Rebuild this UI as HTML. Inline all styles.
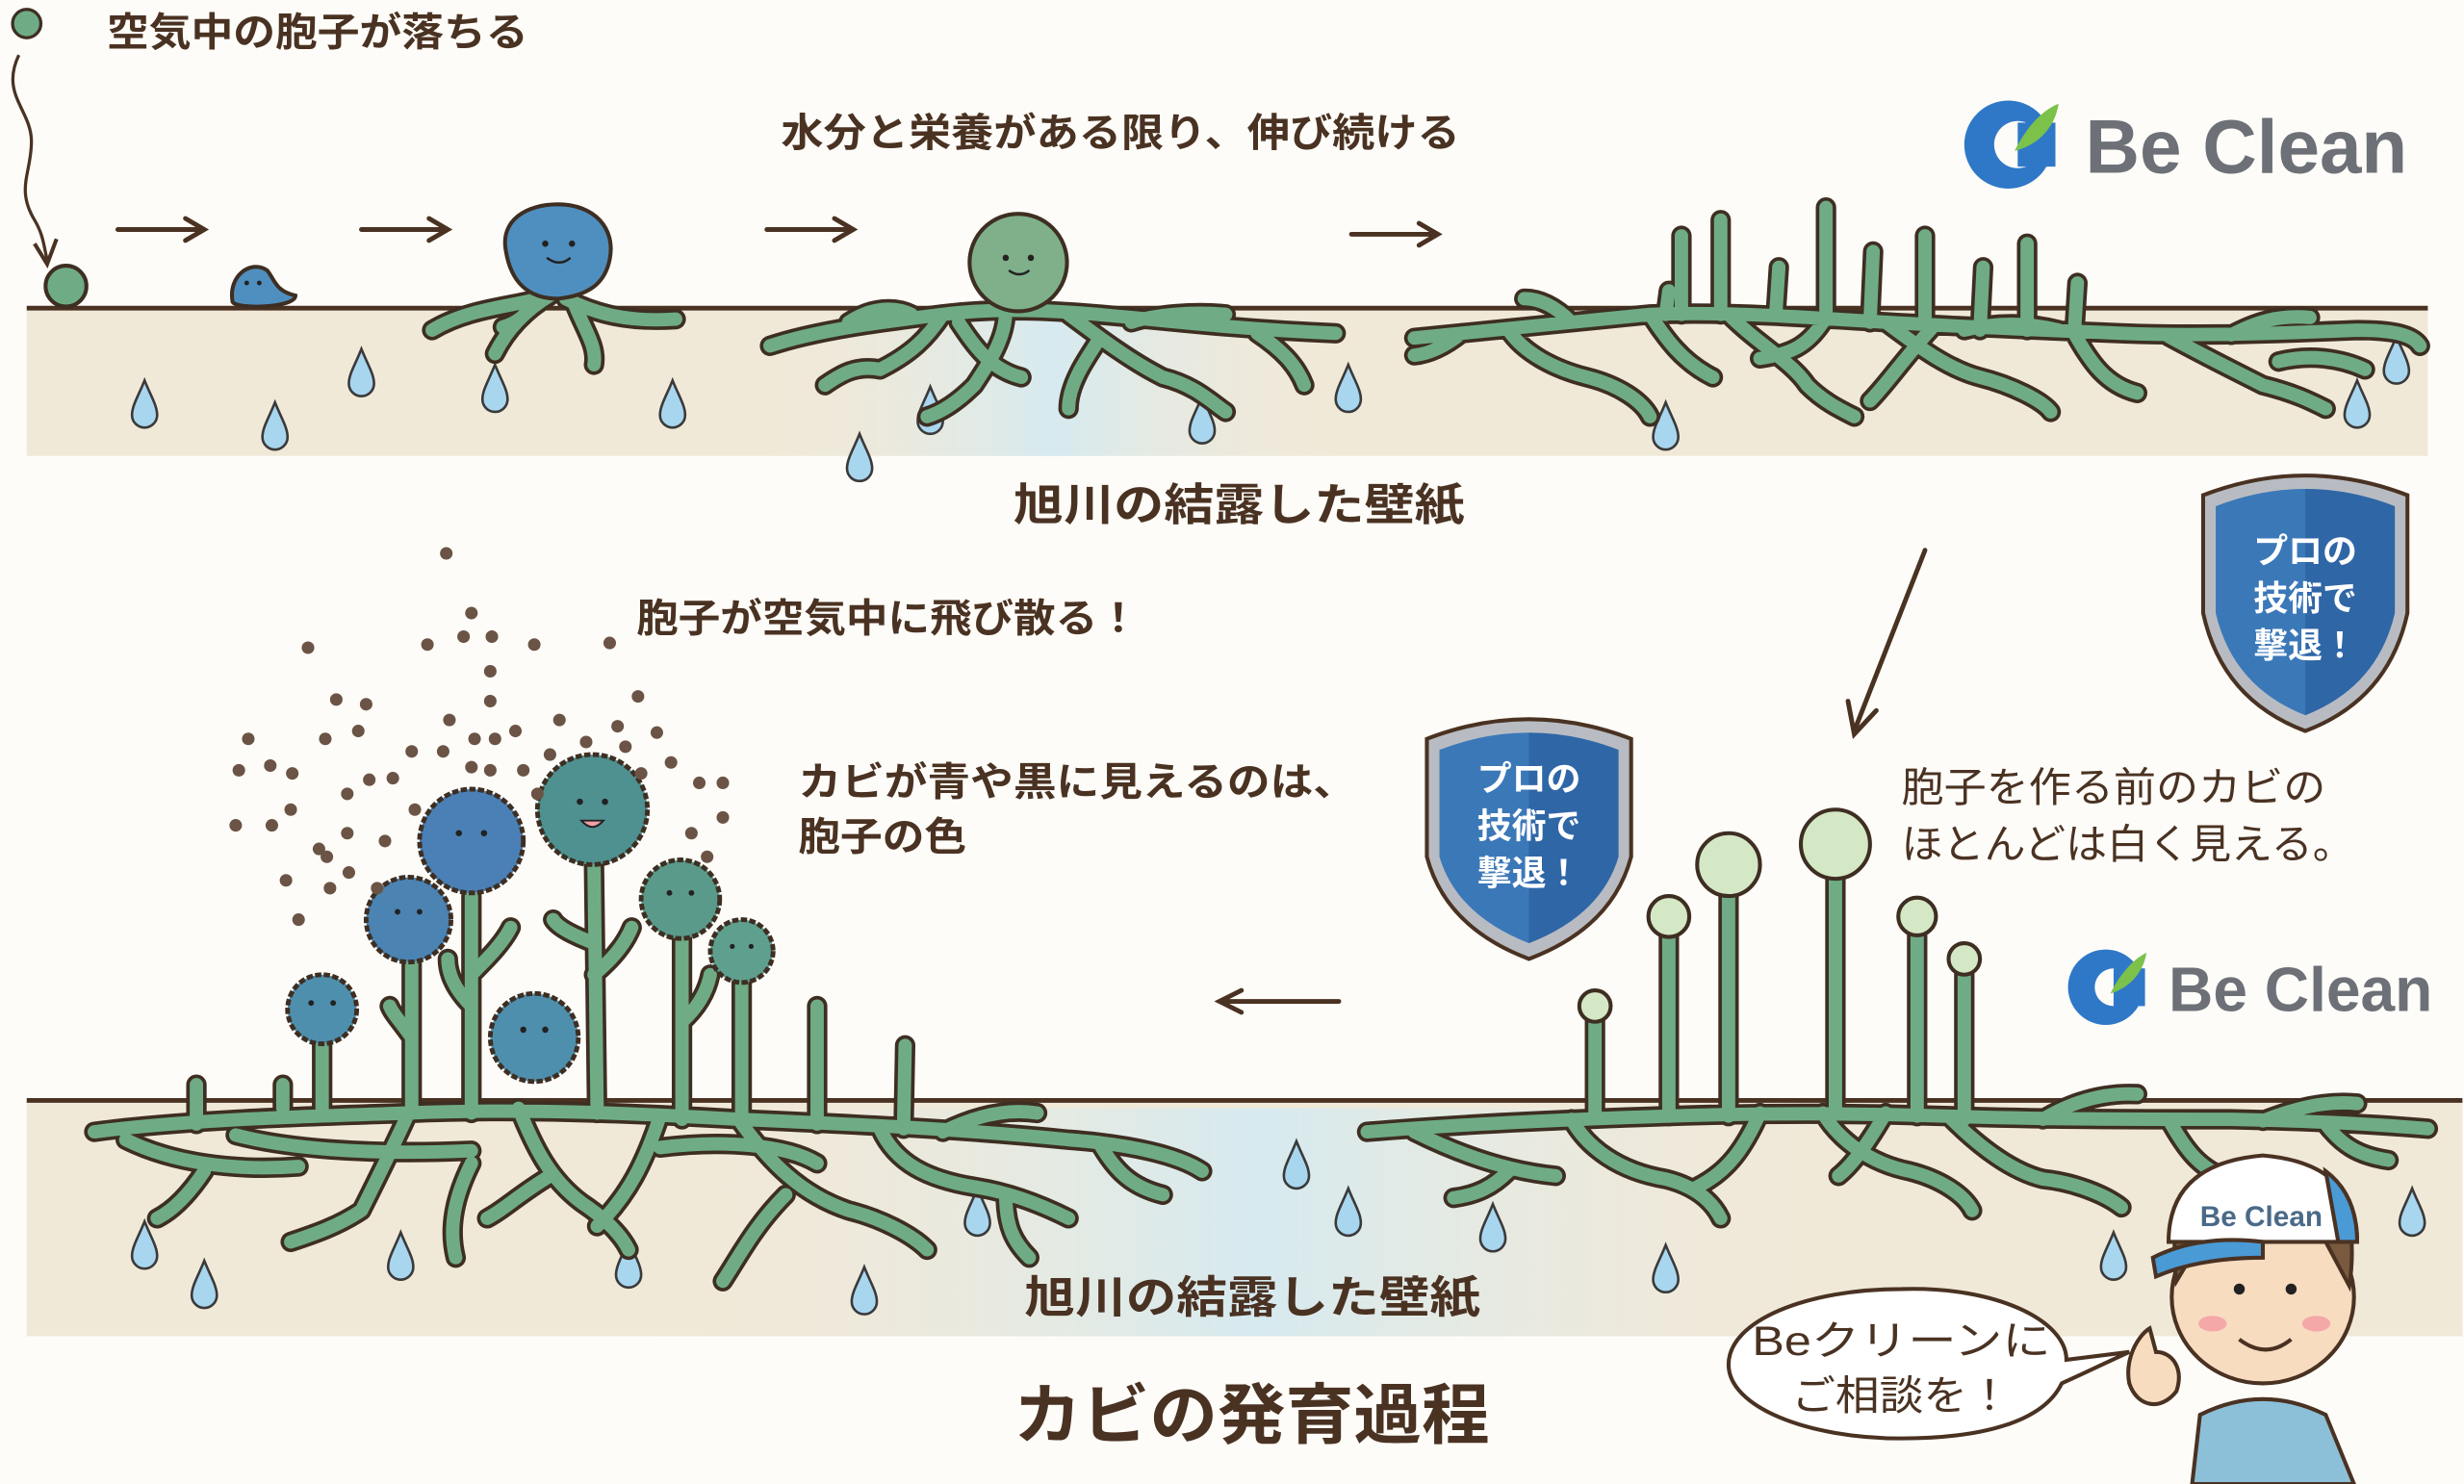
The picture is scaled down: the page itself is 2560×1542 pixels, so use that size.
<!DOCTYPE html>
<html><head><meta charset="utf-8"><style>
html,body{margin:0;padding:0;background:#fdfcf8;}
svg{display:block;}
text{font-family:"Liberation Sans","Noto Sans CJK JP",sans-serif;fill:#4a3222;}
</style></head><body>
<svg width="2560" height="1542" viewBox="0 0 1568 944" preserveAspectRatio="none" xmlns="http://www.w3.org/2000/svg">
<defs>
<path id="drop" d="M0,-16 C4,-6 8,0 8,6 A8,8 0 0 1 -8,6 C-8,0 -4,-6 0,-16Z" fill="#a9d6ef" stroke="#3a3a3a" stroke-width="1.6"/>
<linearGradient id="wet" x1="0" x2="1"><stop offset="0" stop-color="#f1e9d8" stop-opacity="0"/><stop offset="0.5" stop-color="#d6eaf0"/><stop offset="1" stop-color="#f1e9d8" stop-opacity="0"/></linearGradient>
<linearGradient id="sh" x1="0" x2="1"><stop offset="0.5" stop-color="#3b78b8"/><stop offset="0.5" stop-color="#2f66a6"/></linearGradient>
<g id="m1" fill="none">
<path d="M275,210 C300,195 330,195 350,188 M350,188 C330,200 320,215 315,225 M360,190 C380,200 400,205 430,203 M365,192 C372,210 380,220 378,232 M340,192 C335,200 330,205 320,208"/>
<path d="M490,220 C520,210 560,205 600,200 C640,195 680,198 720,202 C760,206 800,210 850,212 M540,205 C555,195 570,195 580,200 M600,200 C590,215 580,225 560,235 M560,235 C545,232 535,238 525,245 M640,198 C640,215 630,230 620,245 M620,245 C610,255 600,262 590,265 M680,200 C700,215 720,230 740,240 M740,240 C760,245 770,255 780,262 M720,205 C735,200 760,198 780,200 M700,215 C690,230 680,245 680,260 M800,212 C815,222 825,232 830,245 M610,205 C620,220 630,235 650,240"/>
<path d="M900,215 C950,210 1000,205 1050,200 C1100,198 1150,202 1200,205 C1250,208 1300,210 1350,212 C1400,214 1450,212 1500,210 C1520,210 1535,212 1540,220 M960,210 C970,225 990,235 1010,240 M1010,240 C1030,245 1045,255 1050,265 M1050,200 C1060,215 1070,230 1090,240 M1100,200 C1120,220 1140,230 1150,245 M1150,245 C1160,255 1170,260 1180,265 M1160,205 C1150,220 1140,225 1120,228 M1200,205 C1220,220 1240,235 1260,240 M1260,240 C1280,245 1300,255 1305,262 M1250,210 C1270,205 1290,205 1310,210 M1320,212 C1330,230 1340,245 1360,250 M1380,214 C1400,225 1420,235 1440,245 M1440,245 C1460,250 1470,255 1480,260 M1420,213 C1435,205 1450,200 1470,202 M1000,205 C990,195 980,190 970,190 M1230,208 C1210,230 1200,245 1190,255 M1450,230 C1470,225 1490,228 1505,235 M930,212 C920,220 910,225 900,226"/>
<path d="M1070,200 L1070,150 M1095,200 L1095,140 M1130,200 L1132,170 M1162,200 L1162,132 M1190,205 L1192,160 M1225,207 L1225,150 M1260,210 L1262,170 M1290,210 L1290,155 M1320,212 L1322,180 M1060,200 L1062,185"/>
<path d="M60,720 C120,712 200,710 260,708 C330,705 400,708 470,712 C540,715 610,718 680,725 C720,728 750,735 765,745 M80,725 C110,740 150,745 190,742 M150,722 C180,730 230,735 300,732 M260,708 C250,730 240,750 230,770 M230,770 C215,780 200,785 185,790 M330,705 C340,730 350,750 370,765 M370,765 C385,775 395,785 400,795 M420,710 C410,740 400,760 380,780 M470,712 C490,740 510,760 540,770 M540,770 C560,775 580,785 590,795 M560,718 C570,740 590,750 620,755 M620,755 C640,758 660,765 680,775 M600,720 C620,710 640,705 660,708 M420,730 C460,725 500,728 520,740 M700,728 C710,745 720,755 740,760 M130,745 C120,760 110,770 100,775 M300,740 C290,760 285,780 290,800 M500,760 C480,780 470,800 460,815 M640,760 C640,780 645,790 655,800 M350,748 C330,760 320,770 310,775"/>
<path d="M180,705 L180,690 M205,705 L205,665 M262,708 L262,610 M300,708 L300,570 M380,708 L378,550 M434,712 L434,595 M472,712 L472,625 M520,715 L520,640 M575,718 L576,665 M125,715 L125,690 M300,640 C290,630 285,620 285,610 M300,620 C310,610 320,600 325,590 M378,600 C365,595 355,590 352,585 M378,620 C390,610 398,600 402,590 M434,650 C445,640 450,630 452,620 M262,660 C255,650 250,645 248,640"/>
<path d="M870,720 C930,715 1000,712 1060,710 C1120,708 1180,708 1240,710 C1300,712 1360,712 1420,712 C1470,713 1510,715 1545,718 M900,720 C930,735 960,745 990,748 M1000,712 C1010,730 1030,745 1060,750 M1060,750 C1080,755 1090,765 1095,775 M1120,708 C1110,730 1100,745 1080,755 M1160,708 C1170,725 1190,740 1215,745 M1215,745 C1235,750 1250,760 1255,770 M1240,710 C1260,730 1280,745 1300,750 M1300,750 C1320,752 1340,760 1350,768 M1300,712 C1320,700 1340,695 1360,696 M1380,712 C1390,730 1400,745 1420,750 M1420,750 C1440,752 1455,758 1465,765 M1440,713 C1460,705 1480,700 1500,702 M1480,715 C1490,728 1500,735 1520,738 M1200,708 C1190,725 1180,740 1170,748 M960,745 C950,755 940,760 925,762"/>
<path d="M1015,710 L1015,645 M1062,710 L1062,595 M1100,710 L1100,570 M1168,708 L1168,557 M1220,710 L1220,595 M1250,712 L1250,620"/>
</g>
</defs>
<rect width="1568" height="944" fill="#fdfcf8"/>
<rect x="17" y="196" width="1528" height="94" fill="#f1e9d8"/>
<rect x="470" y="200" width="400" height="90" fill="url(#wet)"/>
<line x1="17" y1="196" x2="1545" y2="196" stroke="#4a3222" stroke-width="3"/>
<rect x="17" y="700" width="1550" height="150" fill="#f1e9d8"/>
<rect x="400" y="705" width="800" height="145" fill="url(#wet)"/>
<line x1="17" y1="700" x2="1567" y2="700" stroke="#4a3222" stroke-width="3"/>
<g>
<use href="#drop" x="92" y="258"/><use href="#drop" x="175" y="272"/><use href="#drop" x="230" y="238"/><use href="#drop" x="315" y="248"/><use href="#drop" x="428" y="258"/><use href="#drop" x="547" y="292"/><use href="#drop" x="592" y="262"/><use href="#drop" x="765" y="268"/><use href="#drop" x="858" y="248"/><use href="#drop" x="1060" y="272"/><use href="#drop" x="1500" y="258"/><use href="#drop" x="1525" y="230"/>
<use href="#drop" x="92" y="793"/><use href="#drop" x="130" y="818"/><use href="#drop" x="255" y="800"/><use href="#drop" x="400" y="805"/><use href="#drop" x="550" y="822"/><use href="#drop" x="622" y="772"/><use href="#drop" x="825" y="742"/><use href="#drop" x="858" y="772"/><use href="#drop" x="950" y="782"/><use href="#drop" x="1060" y="808"/><use href="#drop" x="1345" y="800"/><use href="#drop" x="1535" y="772"/>
</g>
<use href="#m1" stroke="#3e2e22" stroke-width="13" stroke-linecap="round"/>
<use href="#m1" stroke="#6fac86" stroke-width="8.5" stroke-linecap="round"/>
<circle cx="17" cy="15" r="9" fill="#6fac86" stroke="#3e2e22" stroke-width="2"/>
<path d="M12,35 C0,60 20,70 20,90 C20,110 10,120 22,140 C28,150 28,158 30,165" fill="none" stroke="#4a3222" stroke-width="2"/>
<path d="M22,155 L30,168 L36,152" fill="none" stroke="#4a3222" stroke-width="2.5"/>
<circle cx="42" cy="182" r="13" fill="#6fac86" stroke="#3e2e22" stroke-width="2.5"/>
<path d="M148,192 C145,175 160,165 170,172 C175,178 175,185 188,188 C188,196 150,197 148,192Z" fill="#4f8fbf" stroke="#3e2e22" stroke-width="2.5"/>
<circle cx="157" cy="180" r="1.5" fill="#222"/><circle cx="165" cy="180" r="1.5" fill="#222"/>
<path d="M322,160 C318,140 335,130 355,130 C378,130 392,145 388,165 C385,180 375,188 355,190 C335,190 325,178 322,160Z" fill="#4f8fbf" stroke="#3e2e22" stroke-width="2.5"/>
<circle cx="347" cy="155" r="2" fill="#222"/><circle cx="364" cy="155" r="2" fill="#222"/><path d="M348,164 Q356,170 363,164" stroke="#222" stroke-width="1.5" fill="none"/>
<circle cx="648" cy="167" r="31" fill="#7fb08a" stroke="#3e2e22" stroke-width="2.5"/>
<circle cx="640" cy="164" r="2" fill="#222"/><circle cx="656" cy="164" r="2" fill="#222"/><path d="M642,172 Q649,177 655,172" stroke="#222" stroke-width="1.5" fill="none"/>
<g fill="#d5e8c6" stroke="#3e2e22" stroke-width="2.5">
<circle cx="1015" cy="640" r="10"/><circle cx="1062" cy="583" r="13"/><circle cx="1100" cy="550" r="20"/><circle cx="1168" cy="537" r="22"/><circle cx="1220" cy="583" r="12"/><circle cx="1250" cy="610" r="10"/>
</g>
<g stroke="#3e2e22" stroke-width="3" stroke-dasharray="4 1.5">
<circle cx="205" cy="642" r="22" fill="#4f8fae"/><circle cx="260" cy="585" r="27" fill="#4b83b3"/><circle cx="300" cy="535" r="33" fill="#4a80b5"/><circle cx="377" cy="515" r="35" fill="#4f9190"/><circle cx="433" cy="572" r="25" fill="#5a9a8a"/><circle cx="472" cy="605" r="20" fill="#5f9f8e"/><circle cx="340" cy="660" r="28" fill="#4f8fae"/>
</g>
<g fill="#222"><circle cx="198" cy="638" r="1.8"/><circle cx="212" cy="638" r="1.8"/><circle cx="253" cy="580" r="1.8"/><circle cx="267" cy="580" r="1.8"/><circle cx="292" cy="530" r="2"/><circle cx="308" cy="530" r="2"/><circle cx="369" cy="510" r="2"/><circle cx="385" cy="510" r="2"/><circle cx="426" cy="568" r="1.8"/><circle cx="440" cy="568" r="1.8"/><circle cx="466" cy="602" r="1.6"/><circle cx="478" cy="602" r="1.6"/><circle cx="333" cy="655" r="2"/><circle cx="347" cy="655" r="2"/></g>
<path d="M370,522 Q377,530 384,522Z" fill="#f0a0a8" stroke="#222" stroke-width="1.2"/>
<g fill="#6b5445">
<circle cx="284" cy="352" r="4"/><circle cx="300" cy="390" r="4"/><circle cx="295" cy="405" r="4"/><circle cx="313" cy="405" r="4"/><circle cx="272" cy="410" r="4"/><circle cx="340" cy="410" r="4"/><circle cx="388" cy="409" r="4"/><circle cx="196" cy="412" r="4"/><circle cx="312" cy="427" r="4"/><circle cx="312" cy="446" r="4"/><circle cx="214" cy="445" r="4"/><circle cx="233" cy="448" r="4"/><circle cx="286" cy="458" r="4"/><circle cx="356" cy="458" r="4"/><circle cx="406" cy="443" r="4"/><circle cx="393" cy="462" r="4"/><circle cx="158" cy="470" r="4"/><circle cx="207" cy="470" r="4"/><circle cx="228" cy="465" r="4"/><circle cx="282" cy="478" r="4"/><circle cx="302" cy="470" r="4"/><circle cx="315" cy="470" r="4"/><circle cx="328" cy="465" r="4"/><circle cx="350" cy="480" r="4"/><circle cx="373" cy="472" r="4"/><circle cx="398" cy="475" r="4"/><circle cx="418" cy="466" r="4"/><circle cx="152" cy="490" r="4"/><circle cx="186" cy="492" r="4"/><circle cx="250" cy="495" r="4"/><circle cx="262" cy="478" r="4"/><circle cx="300" cy="488" r="4"/><circle cx="312" cy="490" r="4"/><circle cx="333" cy="490" r="4"/><circle cx="342" cy="505" r="4"/><circle cx="408" cy="492" r="4"/><circle cx="427" cy="485" r="4"/><circle cx="445" cy="498" r="4"/><circle cx="460" cy="498" r="4"/><circle cx="172" cy="487" r="4"/><circle cx="185" cy="515" r="4"/><circle cx="221" cy="505" r="4"/><circle cx="235" cy="496" r="4"/><circle cx="264" cy="515" r="4"/><circle cx="150" cy="525" r="4"/><circle cx="173" cy="525" r="4"/><circle cx="221" cy="530" r="4"/><circle cx="208" cy="545" r="4"/><circle cx="245" cy="535" r="4"/><circle cx="182" cy="560" r="4"/><circle cx="210" cy="565" r="4"/><circle cx="222" cy="555" r="4"/><circle cx="240" cy="565" r="4"/><circle cx="190" cy="585" r="4"/><circle cx="203" cy="540" r="4"/><circle cx="440" cy="530" r="4"/><circle cx="460" cy="520" r="4"/><circle cx="450" cy="545" r="4"/></g>
<g stroke="#4a3222" stroke-width="3" fill="none" stroke-linecap="round">
<path d="M75,146 L128,146 M118,139 L130,146 L118,153"/>
<path d="M230,146 L283,146 M273,139 L285,146 L273,153"/>
<path d="M488,146 L541,146 M531,139 L543,146 L531,153"/>
<path d="M860,149 L913,149 M903,142 L915,149 L903,156"/>
<path d="M1225,350 L1180,465 M1176,446 L1180,467 L1194,452"/>
<path d="M852,637 L778,637 M790,630 L776,637 L790,644"/>
</g>
<text x="68" y="29" font-size="25" textLength="268" lengthAdjust="spacingAndGlyphs" font-weight="bold">空気中の胞子が落ちる</text>
<text x="497" y="93" font-size="25" textLength="432" lengthAdjust="spacingAndGlyphs" font-weight="bold">水分と栄養がある限り、伸び続ける</text>
<text x="645" y="331" font-size="28" textLength="287" lengthAdjust="spacingAndGlyphs" font-weight="bold">旭川の結露した壁紙</text>
<text x="405" y="402" font-size="25" textLength="320" lengthAdjust="spacingAndGlyphs" font-weight="bold">胞子が空気中に飛び散る！</text>
<text x="508" y="506" font-size="25" textLength="355" lengthAdjust="spacingAndGlyphs" font-weight="bold">カビが青や黒に見えるのは、</text>
<text x="508" y="541" font-size="25" textLength="107" lengthAdjust="spacingAndGlyphs" font-weight="bold">胞子の色</text>
<text x="1210" y="510" font-size="26" textLength="270" lengthAdjust="spacingAndGlyphs">胞子を作る前のカビの</text>
<text x="1210" y="546" font-size="26" textLength="288" lengthAdjust="spacingAndGlyphs">ほとんどは白く見える。</text>
<text x="652" y="835" font-size="28" textLength="290" lengthAdjust="spacingAndGlyphs" font-weight="bold">旭川の結露した壁紙</text>
<text x="645" y="915" font-size="42" textLength="303" lengthAdjust="spacingAndGlyphs" font-weight="bold">カビの発育過程</text>
<g>
<circle cx="1278" cy="92" r="28" fill="#2f78c8"/><circle cx="1284" cy="92" r="15" fill="#fdfcf8"/><rect x="1284" y="78" width="24" height="28" fill="#2f78c8"/><path d="M1282,96 C1290,80 1300,70 1310,66 C1308,80 1298,92 1282,96Z" fill="#7cc24a"/>
<text x="1327" y="110" font-size="48" font-weight="bold" style="fill:#6d7177" textLength="205" lengthAdjust="spacingAndGlyphs">Be Clean</text>
<circle cx="1340" cy="628" r="24" fill="#2f78c8"/><circle cx="1345" cy="628" r="12" fill="#fdfcf8"/><rect x="1345" y="616" width="20" height="24" fill="#2f78c8"/><path d="M1343,632 C1350,618 1358,610 1366,606 C1364,618 1356,628 1343,632Z" fill="#7cc24a"/>
<text x="1380" y="643" font-size="40" font-weight="bold" style="fill:#6d7177" textLength="168" lengthAdjust="spacingAndGlyphs">Be Clean</text>
</g>
<g>
<path d="M1402,315 Q1467,290 1532,315 L1532,390 Q1520,445 1467,465 Q1414,445 1402,390Z" fill="#b8bcc2" stroke="#4a3222" stroke-width="2.5"/>
<path d="M1410,322 Q1467,300 1524,322 L1524,390 Q1513,437 1467,455 Q1421,437 1410,390Z" fill="url(#sh)"/>
<text x="1467" y="358" font-size="22" text-anchor="middle" style="fill:#fff" font-weight="bold">プロの</text>
<text x="1467" y="388" font-size="22" text-anchor="middle" style="fill:#fff" font-weight="bold">技術で</text>
<text x="1467" y="418" font-size="22" text-anchor="middle" style="fill:#fff" font-weight="bold">撃退！</text>
<path d="M908,470 Q973,445 1038,470 L1038,545 Q1026,590 973,610 Q920,590 908,545Z" fill="#b8bcc2" stroke="#4a3222" stroke-width="2.5"/>
<path d="M916,477 Q973,455 1030,477 L1030,545 Q1019,582 973,600 Q927,582 916,545Z" fill="url(#sh)"/>
<text x="973" y="503" font-size="22" text-anchor="middle" style="fill:#fff" font-weight="bold">プロの</text>
<text x="973" y="533" font-size="22" text-anchor="middle" style="fill:#fff" font-weight="bold">技術で</text>
<text x="973" y="563" font-size="22" text-anchor="middle" style="fill:#fff" font-weight="bold">撃退！</text>
</g>
<path d="M1210,820 C1270,818 1315,840 1315,865 L1355,860 L1312,880 C1300,905 1260,915 1210,915 C1150,915 1100,895 1100,868 C1100,840 1150,820 1210,820Z" fill="#fff" stroke="#4a3222" stroke-width="2.5"/>
<text x="1210" y="862" font-size="26" text-anchor="middle" textLength="190" lengthAdjust="spacingAndGlyphs">Beクリーンに</text>
<text x="1210" y="897" font-size="26" text-anchor="middle" textLength="140" lengthAdjust="spacingAndGlyphs">ご相談を！</text>
<g stroke="#4a3222" stroke-width="2.5">
<path d="M1395,944 L1400,900 Q1440,880 1480,900 L1498,944Z" fill="#8cc0d8"/>
<ellipse cx="1440" cy="825" rx="58" ry="55" fill="#f8dcc0"/>
<path d="M1385,815 Q1380,770 1395,760 L1490,760 Q1500,785 1495,818 L1480,790 L1400,790Z" fill="#7a5a3e"/>
<path d="M1380,790 Q1380,740 1440,735 Q1500,740 1500,790 Z" fill="#fff"/>
<path d="M1370,800 Q1400,785 1440,790 L1440,800 Q1400,800 1372,812Z" fill="#4a9ad6"/>
<path d="M1480,745 Q1500,760 1500,790 L1488,790Z" fill="#4a9ad6"/>
<path d="M1355,880 C1352,865 1360,850 1368,845 L1372,860 C1382,860 1390,870 1385,885 C1375,898 1360,895 1355,880Z" fill="#f8dcc0"/>
</g>
<text x="1400" y="780" font-size="18" font-weight="bold" style="fill:#4a6a88" textLength="78" lengthAdjust="spacingAndGlyphs">Be Clean</text>
<circle cx="1425" cy="820" r="3.5" fill="#222"/><circle cx="1458" cy="820" r="3.5" fill="#222"/>
<ellipse cx="1408" cy="842" rx="9" ry="5" fill="#f4a8a8"/><ellipse cx="1474" cy="842" rx="9" ry="5" fill="#f4a8a8"/>
<path d="M1425,852 Q1442,865 1458,852" stroke="#4a3222" stroke-width="2.5" fill="none"/>
</svg>
</body></html>
